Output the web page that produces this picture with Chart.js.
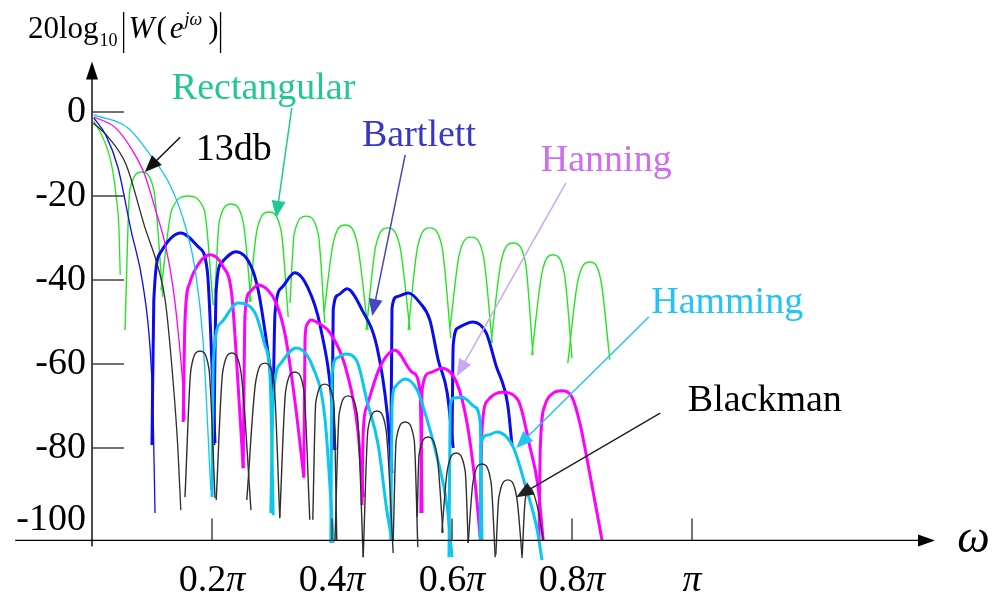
<!DOCTYPE html>
<html>
<head>
<meta charset="utf-8">
<title>Window spectra</title>
<script src="https://cdn.jsdelivr.net/npm/chart.js@4.4.1/dist/chart.umd.min.js"></script>
<style>
html, body { margin: 0; padding: 0; background: #ffffff; }
#winChart { display: block; }
</style>
</head>
<body>
<canvas id="winChart" width="992" height="600"></canvas>
<script>
// x = omega / pi, y = 20log10|W| in dB
// every lobe: left foot, shoulders, peak, right foot

const xTicks = [0.2, 0.4, 0.6, 0.8, 1.0];
const xTickLabels = ['0.2π', '0.4π', '0.6π', '0.8π', 'π'];
const yTicks = [0, -20, -40, -60, -80, -100];

// Rectangular
const rectMain = [[0.003,-2.1],[0.020,-6.7],[0.032,-12.1],[0.040,-19.8],[0.045,-28.1],[0.047,-38.8]];
const rectLobes = [
  [[0.055,-51.9],[0.063,-18.6],[0.083,-14.3],[0.103,-18.6],[0.118,-44.0]],
  [[0.115,-42.4],[0.133,-23.3],[0.160,-20.0],[0.187,-23.3],[0.202,-46.0]],
  [[0.205,-43.1],[0.212,-26.2],[0.232,-21.9],[0.252,-26.2],[0.265,-45.2]],
  [[0.262,-45.2],[0.275,-28.1],[0.295,-23.8],[0.315,-28.1],[0.327,-48.8]],
  [[0.330,-45.5],[0.337,-29.0],[0.357,-24.8],[0.377,-29.0],[0.388,-50.2]],
  [[0.387,-47.6],[0.402,-31.2],[0.422,-26.9],[0.442,-31.2],[0.460,-51.9]],
  [[0.457,-51.9],[0.473,-31.9],[0.493,-27.6],[0.513,-31.9],[0.530,-51.9]],
  [[0.527,-51.9],[0.543,-31.9],[0.563,-27.6],[0.583,-31.9],[0.598,-53.8]],
  [[0.597,-51.2],[0.612,-34.0],[0.632,-29.8],[0.652,-34.0],[0.667,-55.0]],
  [[0.665,-55.0],[0.682,-35.5],[0.702,-31.2],[0.722,-35.5],[0.735,-57.9]],
  [[0.733,-57.9],[0.750,-38.3],[0.768,-34.0],[0.787,-38.3],[0.800,-58.6]],
  [[0.793,-59.8],[0.810,-40.0],[0.830,-35.7],[0.848,-40.0],[0.863,-59.0]]
];

// Bartlett
const bartMain = [[0.003,-1.4],[0.023,-5.5],[0.043,-13.1],[0.065,-28.1],[0.085,-41.2],[0.097,-56.7],[0.102,-72.6],[0.105,-95.5]];
const bartLobes = [
  [[0.100,-79.3],[0.103,-44.8],[0.115,-33.3],[0.148,-28.8],[0.177,-32.1],[0.192,-37.6],[0.205,-78.8]],
  [[0.203,-79.3],[0.207,-42.4],[0.217,-35.7],[0.240,-33.3],[0.265,-36.7],[0.277,-42.4],[0.288,-51.9],[0.303,-67.4]],
  [[0.302,-68.6],[0.305,-47.9],[0.317,-41.7],[0.338,-38.3],[0.360,-41.9],[0.380,-50.7],[0.402,-72.6],[0.405,-80.5]],
  [[0.400,-80.5],[0.402,-47.1],[0.410,-43.6],[0.425,-42.1],[0.450,-47.1],[0.475,-56.0],[0.492,-71.7],[0.500,-86.0]],
  [[0.498,-86.0],[0.500,-46.7],[0.508,-44.0],[0.527,-43.1],[0.547,-45.5],[0.563,-49.5],[0.577,-59.0],[0.592,-66.9],[0.602,-80.0]],
  [[0.600,-79.3],[0.602,-55.5],[0.610,-51.4],[0.635,-50.0],[0.657,-52.6],[0.673,-60.2],[0.693,-69.8],[0.700,-79.3]]
];

// Hanning
const hannMain = [[0.003,-1.2],[0.038,-3.6],[0.065,-8.6],[0.088,-15.0],[0.105,-22.9],[0.123,-32.1],[0.135,-41.7],[0.145,-54.3],[0.152,-66.2],[0.155,-73.3]];
const hannLobes = [
  [[0.152,-73.8],[0.155,-49.5],[0.163,-40.7],[0.180,-35.7],[0.197,-34.0],[0.218,-36.7],[0.233,-43.6],[0.243,-63.8],[0.252,-84.8]],
  [[0.252,-84.8],[0.255,-48.3],[0.263,-42.9],[0.277,-41.2],[0.293,-42.4],[0.307,-45.5],[0.322,-53.1],[0.338,-68.6],[0.353,-86.9]],
  [[0.353,-87.1],[0.355,-54.3],[0.358,-50.7],[0.365,-49.5],[0.380,-50.5],[0.397,-52.6],[0.425,-62.1],[0.443,-75.7],[0.452,-91.7]],
  [[0.450,-93.6],[0.452,-76.4],[0.458,-70.2],[0.480,-60.7],[0.505,-56.7],[0.535,-62.1],[0.547,-66.9],[0.550,-95.5]],
  [[0.548,-95.5],[0.550,-66.2],[0.563,-62.1],[0.583,-61.0],[0.608,-64.5],[0.625,-74.0],[0.638,-87.6],[0.647,-101.2]],
  [[0.647,-101.2],[0.650,-75.7],[0.660,-68.6],[0.683,-66.7],[0.710,-68.6],[0.730,-79.8],[0.743,-88.8],[0.752,-101.9]],
  [[0.745,-101.9],[0.747,-80.5],[0.755,-69.8],[0.767,-67.1],[0.783,-66.4],[0.800,-67.9],[0.813,-74.0],[0.830,-86.4],[0.850,-101.9]]
];

// Hamming
const hammMain = [[0.003,-0.7],[0.060,-3.8],[0.097,-10.2],[0.130,-17.4],[0.155,-26.9],[0.172,-37.6],[0.185,-54.3],[0.198,-90.0]];
const hammLobes = [
  [[0.200,-91.7],[0.202,-59.8],[0.215,-50.2],[0.243,-45.5],[0.272,-47.9],[0.288,-55.5],[0.297,-63.8],[0.302,-96.0]],
  [[0.298,-95.5],[0.302,-67.9],[0.315,-59.8],[0.340,-56.2],[0.368,-60.7],[0.388,-72.6],[0.397,-90.0],[0.402,-102.6]],
  [[0.398,-102.6],[0.400,-62.6],[0.408,-58.6],[0.422,-57.6],[0.442,-59.5],[0.458,-68.6],[0.477,-79.3],[0.492,-95.5],[0.500,-101.9]],
  [[0.498,-101.9],[0.500,-70.2],[0.505,-65.5],[0.522,-63.6],[0.542,-66.2],[0.552,-70.2],[0.575,-82.1],[0.592,-94.0],[0.600,-106.0]],
  [[0.595,-106.0],[0.597,-70.2],[0.603,-68.1],[0.617,-67.9],[0.638,-70.2],[0.647,-74.0],[0.650,-101.9]],
  [[0.647,-101.9],[0.648,-79.3],[0.660,-76.9],[0.675,-76.2],[0.702,-79.8],[0.722,-88.8],[0.742,-99.5],[0.750,-106.7]]
];

// Blackman
const blackMain = [[0.002,-2.6],[0.027,-6.0],[0.057,-12.6],[0.088,-27.4],[0.110,-36.9],[0.122,-44.8],[0.135,-63.8],[0.143,-79.8],[0.148,-94.8]];
const blackLobes = [
  [[0.155,-91.7],[0.165,-61.2],[0.180,-56.9],[0.195,-61.2],[0.205,-91.9]],
  [[0.207,-92.4],[0.218,-61.7],[0.233,-57.4],[0.248,-61.7],[0.265,-94.8]],
  [[0.258,-92.4],[0.273,-64.1],[0.288,-59.8],[0.303,-64.1],[0.313,-96.7]],
  [[0.313,-96.4],[0.323,-66.2],[0.338,-61.9],[0.353,-66.2],[0.363,-97.1]],
  [[0.368,-97.1],[0.373,-69.1],[0.388,-64.8],[0.403,-69.1],[0.408,-101.9]],
  [[0.405,-101.9],[0.412,-71.9],[0.427,-67.6],[0.442,-71.9],[0.452,-106.0]],
  [[0.452,-106.0],[0.460,-75.5],[0.475,-71.2],[0.490,-75.5],[0.502,-105.0]],
  [[0.502,-101.9],[0.507,-78.1],[0.522,-73.8],[0.537,-78.1],[0.543,-103.6]],
  [[0.542,-96.4],[0.545,-81.7],[0.560,-77.4],[0.575,-81.7],[0.585,-100.2]],
  [[0.583,-100.2],[0.592,-85.5],[0.607,-81.2],[0.622,-85.5],[0.627,-102.6]],
  [[0.627,-102.6],[0.635,-88.1],[0.650,-83.8],[0.665,-88.1],[0.672,-106.0]],
  [[0.673,-105.5],[0.678,-91.9],[0.693,-87.6],[0.708,-91.9],[0.717,-106.2]],
  [[0.717,-105.5],[0.722,-92.4],[0.730,-89.5],[0.742,-93.8],[0.752,-101.9]]
];

// labels with arrows, in data units
const notes = [
  { text: 'Rectangular', color: '#21c795', arrow: '#21c795', at: [0.133, 3.1],   from: [0.333, 1.0],   to: [0.307, -25.2] },
  { text: '13db',        color: '#000000', arrow: '#111111', at: [0.173, -11.4], from: [0.147, -6.0],  to: [0.088, -14.3] },
  { text: 'Bartlett',    color: '#3636c8', arrow: '#4646c0', at: [0.450, -8.1],  from: [0.522, -10.2], to: [0.467, -48.6] },
  { text: 'Hanning',     color: '#d06cf0', arrow: '#c9a8f2', at: [0.748, -14.0], from: [0.790, -16.9], to: [0.608, -62.9] },
  { text: 'Hamming',     color: '#22c4f4', arrow: '#22c4f4', at: [0.932, -47.9], from: [0.928, -48.8], to: [0.707, -80.0] },
  { text: 'Blackman',    color: '#000000', arrow: '#222222', at: [0.993, -71.2], from: [0.947, -71.7], to: [0.707, -91.7] }
];

const serif = '"Liberation Serif", "Times New Roman", serif';

function lobeSet(points, color, width) {
  return {
    data: points.map(p => ({ x: p[0], y: p[1] })),
    borderColor: color,
    borderWidth: width,
    pointRadius: 0,
    fill: false,
    cubicInterpolationMode: 'monotone'
  };
}

const datasets = [];
function addWindow(main, lobes, color, lobeWidth) {
  datasets.push(lobeSet(main, color, 1.3));
  lobes.forEach(l => datasets.push(lobeSet(l, color, lobeWidth)));
}
// first dataset ends up on top
addWindow(blackMain, blackLobes, '#2e2e2e', 1.4);
addWindow(hammMain, hammLobes, '#0cc6f2', 3);
addWindow(hannMain, hannLobes, '#ff00ff', 3);
addWindow(bartMain, bartLobes, '#0b0bf0', 3);
addWindow(rectMain, rectLobes, '#22e622', 1.4);

function arrow(ctx, x1, y1, x2, y2, color, width, len, half) {
  const a = Math.atan2(y2 - y1, x2 - x1);
  const c = Math.cos(a), s = Math.sin(a);
  ctx.strokeStyle = color;
  ctx.fillStyle = color;
  ctx.lineWidth = width;
  ctx.beginPath();
  ctx.moveTo(x1, y1);
  ctx.lineTo(x2 - len * 0.8 * c, y2 - len * 0.8 * s);
  ctx.stroke();
  ctx.beginPath();
  ctx.moveTo(x2, y2);
  ctx.lineTo(x2 - len * c + half * s, y2 - len * s - half * c);
  ctx.lineTo(x2 - len * c - half * s, y2 - len * s + half * c);
  ctx.closePath();
  ctx.fill();
}

const decor = {
  id: 'decor',
  afterDatasetsDraw(chart) {
    const ctx = chart.ctx;
    const px = v => chart.scales.x.getPixelForValue(v);
    const py = v => chart.scales.y.getPixelForValue(v);
    const ox = px(0);
    const axisY = py(-102);
    ctx.save();

    // axes
    arrow(ctx, px(-0.128), axisY, px(1.405), axisY, '#000', 1.4, 17, 6);
    arrow(ctx, ox, axisY + 6, ox, py(12), '#000', 1.4, 18, 6);

    // tick marks
    ctx.strokeStyle = '#444';
    ctx.lineWidth = 1.5;
    ctx.beginPath();
    xTicks.forEach(t => { ctx.moveTo(px(t), axisY); ctx.lineTo(px(t), axisY - 22); });
    yTicks.filter(t => t > -100).forEach(t => { ctx.moveTo(ox, py(t)); ctx.lineTo(ox + 32, py(t)); });
    ctx.stroke();

    // tick labels
    ctx.fillStyle = '#000';
    ctx.font = '38px ' + serif;
    ctx.textAlign = 'right';
    ctx.textBaseline = 'middle';
    yTicks.forEach(t => ctx.fillText(String(t), ox - 6, Math.min(py(t), axisY - 20)));

    ctx.textAlign = 'left';
    ctx.textBaseline = 'alphabetic';
    xTickLabels.forEach((lab, i) => {
      const num = lab.slice(0, -1);
      ctx.font = '38px ' + serif;
      const w1 = ctx.measureText(num).width;
      ctx.font = 'italic 38px ' + serif;
      const w2 = ctx.measureText('π').width;
      const x0 = px(xTicks[i]) - (w1 + w2) / 2;
      ctx.font = '38px ' + serif;
      ctx.fillText(num, x0, axisY + 51);
      ctx.font = 'italic 38px ' + serif;
      ctx.fillText('π', x0 + w1, axisY + 51);
    });

    // omega at the end of the x axis
    ctx.font = 'italic 46px ' + serif;
    ctx.fillText('ω', px(1.442), axisY + 12);

    // y axis title 20log10|W(e^jw)|
    let cx = 28;
    const base = 38;
    ctx.font = '31px ' + serif;
    ctx.fillText('20log', cx, base);
    cx += ctx.measureText('20log').width + 1;
    ctx.font = '18px ' + serif;
    ctx.fillText('10', cx, base + 8);
    cx += ctx.measureText('10').width + 6;
    ctx.strokeStyle = '#000';
    ctx.lineWidth = 1.3;
    ctx.beginPath(); ctx.moveTo(cx, 12); ctx.lineTo(cx, 53); ctx.stroke();
    cx += 5;
    ctx.font = 'italic 31px ' + serif;
    ctx.fillText('W', cx, base);
    cx += ctx.measureText('W').width + 2;
    ctx.font = '31px ' + serif;
    ctx.fillText('(', cx, base);
    cx += ctx.measureText('(').width + 3;
    ctx.font = 'italic 31px ' + serif;
    ctx.fillText('e', cx, base);
    cx += ctx.measureText('e').width + 1;
    ctx.font = 'italic 18px ' + serif;
    ctx.fillText('jω', cx, base - 13);
    cx += ctx.measureText('jω').width + 6;
    ctx.font = '31px ' + serif;
    ctx.fillText(')', cx, base);
    cx += ctx.measureText(')').width + 2;
    ctx.beginPath(); ctx.moveTo(cx, 12); ctx.lineTo(cx, 53); ctx.stroke();

    // window names with arrows
    notes.forEach(n => {
      arrow(ctx, px(n.from[0]), py(n.from[1]), px(n.to[0]), py(n.to[1]), n.arrow, 1.5, 17, 7);
      ctx.font = '38px ' + serif;
      ctx.fillStyle = n.color;
      ctx.fillText(n.text, px(n.at[0]), py(n.at[1]));
    });

    ctx.restore();
  }
};

new Chart(document.getElementById('winChart'), {
  type: 'line',
  data: { datasets },
  options: {
    responsive: false,
    animation: false,
    devicePixelRatio: 1,
    layout: { padding: { left: 92, right: 30, top: 60, bottom: 35 } },
    scales: {
      x: { type: 'linear', min: 0, max: 1.45, display: false },
      y: { type: 'linear', min: -107.86, max: 12.38, display: false }
    },
    plugins: {
      legend: { display: false },
      tooltip: { enabled: false }
    }
  },
  plugins: [decor]
});
</script>
</body>
</html>
